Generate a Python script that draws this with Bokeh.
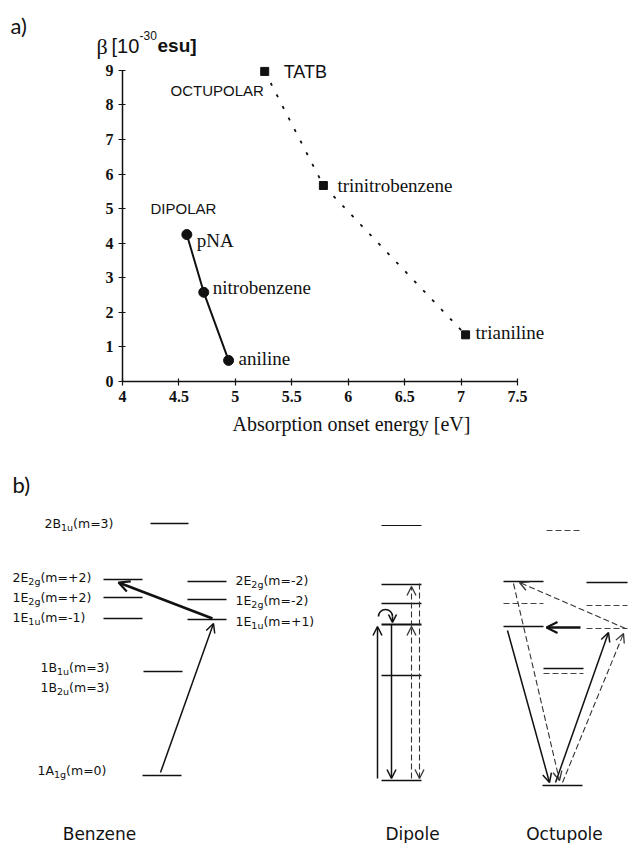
from bokeh.plotting import figure
from bokeh.models import (Range1d, FixedTicker, Label, Arrow, OpenHead, ColumnDataSource,
                          LinearAxis)
from bokeh.embed import file_html
from bokeh.resources import INLINE
from bokeh.core.properties import value
import math

# ---------------- panel a data ----------------
dip_names = ["pNA", "nitrobenzene", "aniline"]
dip_energy = [4.57, 4.72, 4.94]
dip_beta = [4.25, 2.58, 0.61]

oct_names = ["TATB", "trinitrobenzene", "trianiline"]
oct_energy = [5.26, 5.78, 7.04]
oct_beta = [8.97, 5.67, 1.35]

x_ticks = [4, 4.5, 5, 5.5, 6, 6.5, 7, 7.5]
y_ticks = [0, 1, 2, 3, 4, 5, 6, 7, 8, 9]

# ---------------- panel b data (schematic energy levels, arbitrary units) ----------------
benz_lvl_x0 = [150, 103, 103, 103, 187, 187, 187, 143, 142]
benz_lvl_x1 = [188, 142, 142, 142, 226, 226, 226, 182, 181]
benz_lvl_E = [320, 264, 246, 225, 262, 244, 224, 172, 68]

dip_lvl_x0 = [381, 381, 381, 381, 381, 381]
dip_lvl_x1 = [421, 421, 421, 421, 421, 421]
dip_lvl_E = [318, 259, 240, 219, 168, 63]

oct_lvl_x0 = [503, 503, 586, 543, 542]
oct_lvl_x1 = [543, 543, 627, 583, 582]
oct_lvl_E = [262, 217, 261, 175, 58]
oct_dlvl_x0 = [503, 586, 586, 543, 546]
oct_dlvl_x1 = [543, 627, 627, 583, 580]
oct_dlvl_E = [240, 238, 215, 170, 313]

lab_x = [44, 12, 12, 12, 40, 40, 37, 235, 235, 235]
lab_E = [320, 266, 246, 226, 176, 156, 73, 263, 243, 222]
lab_main = ["2B", "2E", "1E", "1E", "1B", "1B", "1A", "2E", "1E", "1E"]
lab_sub = ["1u", "2g", "2g", "1u", "1u", "2u", "1g", "2g", "2g", "1u"]
lab_tail = ["(m=3)", "(m=+2)", "(m=+2)", "(m=-1)", "(m=3)", "(m=3)", "(m=0)",
            "(m=-2)", "(m=-2)", "(m=+1)"]

thin_x0 = [160, 377, 391, 555, 507]
thin_E0 = [71, 65, 219, 61, 213]
thin_x1 = [213, 377, 391, 608, 549]
thin_E1 = [220, 217, 65, 211, 61]

thick_x0 = [212, 580]
thick_E0 = [225, 216]
thick_x1 = [118, 546]
thick_E1 = [261, 216]

dash_x0 = [411, 411, 419, 562, 513, 625]
dash_E0 = [65, 217, 260, 61, 260, 215]
dash_x1 = [411, 411, 419, 623, 559, 519]
dash_E1 = [217, 257, 65, 210, 63, 261]

group_names = ["Benzene", "Dipole", "Octupole"]
group_x = [99, 412, 564]

INK = "#111111"
W_PX, H_PX = 629, 843
# panel a placement on the page
X0_PX, X_PER_UNIT = 122, 112.86
Y0_PX, Y_PER_UNIT = 381, 34.57

p = figure(width=W_PX, height=H_PX, output_backend="svg", toolbar_location=None,
           x_range=Range1d(0, W_PX), y_range=Range1d(0, H_PX),
           x_axis_type=None, y_axis_type=None,
           min_border=0, min_border_left=0, min_border_right=0,
           min_border_top=0, min_border_bottom=0)
p.outline_line_color = None
p.extra_x_ranges = {"eV": Range1d(4 - X0_PX / X_PER_UNIT, 4 + (W_PX - X0_PX) / X_PER_UNIT)}
p.extra_y_ranges = {"beta": Range1d(-(H_PX - Y0_PX) / Y_PER_UNIT, Y0_PX / Y_PER_UNIT)}

xa = LinearAxis(x_range_name="eV", y_range_name="beta", fixed_location=0,
                ticker=FixedTicker(ticks=x_ticks), bounds=(4, 7.5))
ya = LinearAxis(x_range_name="eV", y_range_name="beta", fixed_location=4,
                ticker=FixedTicker(ticks=y_ticks), bounds=(0, 9))
for ax in (xa, ya):
    ax.axis_line_color = INK
    ax.axis_line_width = 1.5
    ax.major_tick_line_color = INK
    ax.major_tick_line_width = 1.2
    ax.major_tick_in = 3
    ax.major_tick_out = 4
    ax.minor_tick_line_color = None
    ax.major_label_text_font = "Liberation Serif"
    ax.major_label_text_font_style = "bold"
    ax.major_label_text_font_size = "16px"
    ax.major_label_text_color = INK
    ax.major_label_standoff = 5
xa.major_label_overrides = {4: "4", 5: "5", 6: "6", 7: "7"}
p.add_layout(xa, "below")
p.add_layout(ya, "left")

R = dict(x_range_name="eV", y_range_name="beta")
p.line(dip_energy, dip_beta, line_color=INK, line_width=2, **R)
p.scatter(dip_energy, dip_beta, marker="circle", size=10, color=INK, **R)
p.line(oct_energy, oct_beta, line_color=INK, line_width=1.8, line_dash="3 10", **R)
p.scatter(oct_energy, oct_beta, marker="square", size=8, color=INK, **R)

dip_src = ColumnDataSource(dict(x=dip_energy, y=dip_beta, t=dip_names,
                                dx=[10, 9, 10], dy=[6, -5, -2]))
p.text(x="x", y="y", text="t", x_offset="dx", y_offset="dy", source=dip_src,
       text_font=value("Liberation Serif"), text_font_size="19px",
       text_baseline="middle", text_color=INK, **R)
oct_src = ColumnDataSource(dict(x=oct_energy[1:], y=oct_beta[1:], t=oct_names[1:],
                                dx=[14, 10], dy=[0, -2]))
p.text(x="x", y="y", text="t", x_offset="dx", y_offset="dy", source=oct_src,
       text_font=value("Liberation Serif"), text_font_size="19px",
       text_baseline="middle", text_color=INK, **R)
p.text(x=oct_energy[:1], y=oct_beta[:1], text=oct_names[:1], x_offset=19, y_offset=1,
       text_font=value("Liberation Sans"), text_font_size="18px",
       text_baseline="middle", text_color=INK, **R)


def add_label(x_px, y_px, text, font, size, style="normal", align="left"):
    p.add_layout(Label(x=x_px, y=H_PX - y_px, text=text, text_font=font, text_font_size=size,
                       text_font_style=style, text_baseline="middle", text_align=align,
                       text_color=INK))


add_label(10, 25, "a)", "Lato", "22px")
add_label(96, 46, "β", "Liberation Serif", "22px")
add_label(111, 45, "[10", "Liberation Sans", "20px")
add_label(139, 35, "-30", "Liberation Sans", "12px")
add_label(157, 45, "esu]", "Liberation Sans", "19px", "bold")
add_label(170, 90, "OCTUPOLAR", "Liberation Sans", "15px")
add_label(150, 208, "DIPOLAR", "Liberation Sans", "15px")
add_label(232, 423, "Absorption onset energy [eV]", "Liberation Serif", "20px")
add_label(12, 484, "b)", "Lato", "22px")

# ================= panel b (schematic, page-like units) =================
p.segment(x0=benz_lvl_x0, y0=benz_lvl_E, x1=benz_lvl_x1, y1=benz_lvl_E,
          line_color=INK, line_width=1.3)
p.segment(x0=dip_lvl_x0, y0=dip_lvl_E, x1=dip_lvl_x1, y1=dip_lvl_E,
          line_color=INK, line_width=[1.0, 1.5, 1.5, 2.2, 1.5, 1.5])
p.segment(x0=oct_lvl_x0, y0=oct_lvl_E, x1=oct_lvl_x1, y1=oct_lvl_E,
          line_color=INK, line_width=1.4)
p.segment(x0=oct_dlvl_x0, y0=oct_dlvl_E, x1=oct_dlvl_x1, y1=oct_dlvl_E,
          line_color="#444444", line_width=1.2, line_dash="6 3")

W = {'0': .636, '1': .636, '2': .636, '3': .636, 'A': .684, 'B': .686, 'E': .632,
     'g': .635, 'u': .634, 'm': .974, '(': .390, ')': .390, '=': .838, '+': .838, '-': .361}


def tw(s, size):
    return sum(W.get(c, 0.6) for c in s) * size


MAIN, SUB = 12.5, 9.5
sub_x = [x + tw(m, MAIN) for x, m in zip(lab_x, lab_main)]
tail_x = [x + tw(s, SUB) for x, s in zip(sub_x, lab_sub)]
sub_E = [e - 4 for e in lab_E]
p.text(x=lab_x, y=lab_E, text=lab_main, text_font=value("DejaVu Sans"),
       text_font_size=f"{MAIN}px", text_baseline="middle", text_color=INK)
p.text(x=sub_x, y=sub_E, text=lab_sub, text_font=value("DejaVu Sans"),
       text_font_size=f"{SUB}px", text_baseline="middle", text_color=INK)
p.text(x=tail_x, y=lab_E, text=lab_tail, text_font=value("DejaVu Sans"),
       text_font_size=f"{MAIN}px", text_baseline="middle", text_color=INK)

p.add_layout(Arrow(end=OpenHead(size=9, line_width=1.5, line_color=INK),
                   source=ColumnDataSource(dict(x0=thin_x0, y0=thin_E0, x1=thin_x1, y1=thin_E1)),
                   x_start="x0", y_start="y0", x_end="x1", y_end="y1",
                   line_color=INK, line_width=1.5))
p.add_layout(Arrow(end=OpenHead(size=11, line_width=2.2, line_color=INK),
                   source=ColumnDataSource(dict(x0=thick_x0, y0=thick_E0, x1=thick_x1, y1=thick_E1)),
                   x_start="x0", y_start="y0", x_end="x1", y_end="y1",
                   line_color=INK, line_width=2.6))
p.add_layout(Arrow(end=OpenHead(size=9, line_width=1.3, line_color="#333333"),
                   source=ColumnDataSource(dict(x0=dash_x0, y0=dash_E0, x1=dash_x1, y1=dash_E1)),
                   x_start="x0", y_start="y0", x_end="x1", y_end="y1",
                   line_color="#333333", line_width=1.1, line_dash="6 3"))
p.arc(x=[385], y=[227], radius=7, start_angle=0, end_angle=math.pi,
      line_color=INK, line_width=1.6)
p.add_layout(Arrow(end=OpenHead(size=8, line_width=1.6, line_color=INK),
                   x_start=392, y_start=227, x_end=392, y_end=221,
                   line_color=INK, line_width=1.6))

p.text(x=group_x, y=[10] * 3, text=group_names, text_font=value("DejaVu Sans"),
       text_font_size="17px", text_align="center", text_baseline="middle", text_color=INK)

open("out.html", "w").write(file_html(p, INLINE))
